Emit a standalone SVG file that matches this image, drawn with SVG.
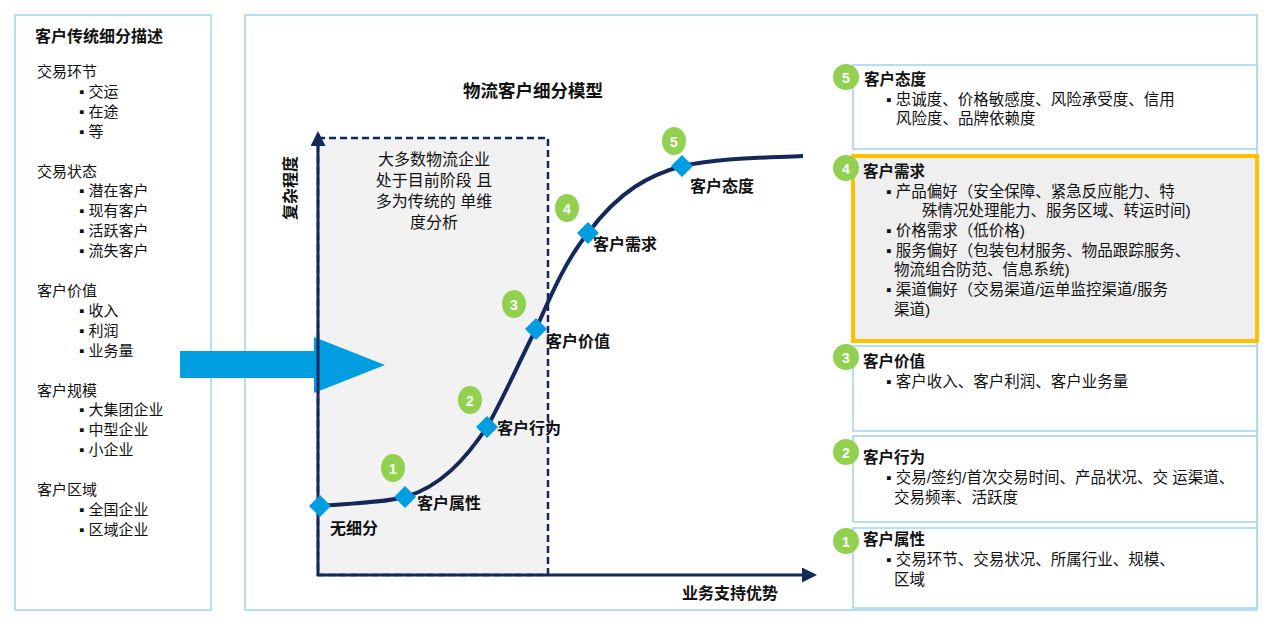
<svg xmlns="http://www.w3.org/2000/svg" width="1280" height="628" viewBox="0 0 1280 628">
<style>
text{font-family:"Liberation Sans","Noto Sans CJK SC",sans-serif;fill:#111}
.b{font-weight:bold}
.t{font-size:15.5px}
.s{font-size:15px}
.lbl{font-size:16px;font-weight:bold}
.panel{fill:#fff;stroke:#9fd3ef;stroke-width:1.5}
.num{fill:#92D050}
.nt{font-size:14px;font-weight:bold;fill:#fff;text-anchor:middle}
.dia{fill:#009ee0}
</style>
<defs>
<marker id="ah" viewBox="0 0 10 10" refX="8" refY="5" markerWidth="5" markerHeight="5" orient="auto"><path d="M0,0 L10,5 L0,10 z" fill="#14285a"/></marker>
</defs>
<g id="left">
<rect class="panel" x="15" y="15" width="196" height="595"/>
<text class="b" x="35" y="42" font-size="16">客户传统细分描述</text>
<g class="s">
<text x="37" y="77">交易环节</text><text x="79" y="97">▪ 交运</text><text x="79" y="117">▪ 在途</text><text x="79" y="137">▪ 等</text>
<text x="37" y="177">交易状态</text><text x="79" y="196">▪ 潜在客户</text><text x="79" y="216">▪ 现有客户</text><text x="79" y="236">▪ 活跃客户</text><text x="79" y="256">▪ 流失客户</text>
<text x="37" y="296">客户价值</text><text x="79" y="316">▪ 收入</text><text x="79" y="336">▪ 利润</text><text x="79" y="356">▪ 业务量</text>
<text x="37" y="396">客户规模</text><text x="79" y="415">▪ 大集团企业</text><text x="79" y="435">▪ 中型企业</text><text x="79" y="455">▪ 小企业</text>
<text x="37" y="495">客户区域</text><text x="79" y="515">▪ 全国企业</text><text x="79" y="535">▪ 区域企业</text>
</g>
</g>
<g id="middle">
<rect class="panel" x="245" y="15" width="1012" height="595"/>
<text class="b" x="533" y="97" font-size="17.5" text-anchor="middle">物流客户细分模型</text>
<rect x="318" y="138" width="230" height="437" fill="#f2f2f2" stroke="#14285a" stroke-width="2.5" stroke-dasharray="7,4"/>
<g font-size="16" text-anchor="middle">
<text x="434" y="165">大多数物流企业</text><text x="434" y="186">处于目前阶段 且</text><text x="434" y="207">多为传统的 单维</text><text x="434" y="228">度分析</text>
</g>
<text class="b" font-size="16" transform="translate(296,188) rotate(-90)" text-anchor="middle">复杂程度</text>
<text class="b" x="730" y="599" font-size="16" text-anchor="middle">业务支持优势</text>
</g>
<g id="connectors">
<path d="M180,351 H314 V337 L385,365 L314,393 V378 H180 z" fill="#009ee0"/>
<line x1="318" y1="576" x2="318" y2="134" stroke="#14285a" stroke-width="3" marker-end="url(#ah)"/>
<line x1="317" y1="575" x2="814" y2="575" stroke="#14285a" stroke-width="3" marker-end="url(#ah)"/>
<path d="M320,506 C360,503 385,502 405,497 C440,487 465,460 487,427 C505,395 520,360 536,329 C553,290 568,257 588,233 C620,190 650,175 682,166 C720,158 760,158 803,156" fill="none" stroke="#14285a" stroke-width="4"/>
</g>
<g id="points">
<path class="dia" d="M320,495 L331,506 L320,517 L309,506 z"/>
<path class="dia" d="M405,486 L416,497 L405,508 L394,497 z"/>
<path class="dia" d="M487,416 L498,427 L487,438 L476,427 z"/>
<path class="dia" d="M536,318 L547,329 L536,340 L525,329 z"/>
<path class="dia" d="M588,222 L599,233 L588,244 L577,233 z"/>
<path class="dia" d="M682,155 L693,166 L682,177 L671,166 z"/>
<ellipse class="num" cx="393" cy="468" rx="12" ry="14"/><text class="nt" x="393" y="474">1</text>
<ellipse class="num" cx="470" cy="400" rx="12" ry="14"/><text class="nt" x="470" y="406">2</text>
<ellipse class="num" cx="514" cy="304" rx="12" ry="14"/><text class="nt" x="514" y="310">3</text>
<ellipse class="num" cx="567" cy="208" rx="12" ry="14"/><text class="nt" x="567" y="214">4</text>
<ellipse class="num" cx="674" cy="141" rx="12" ry="14"/><text class="nt" x="674" y="147">5</text>
<text class="lbl" x="330" y="534">无细分</text>
<text class="lbl" x="417" y="509">客户属性</text>
<text class="lbl" x="497" y="434">客户行为</text>
<text class="lbl" x="546" y="347">客户价值</text>
<text class="lbl" x="593" y="250">客户需求</text>
<text class="lbl" x="690" y="192">客户态度</text>
</g>
<g id="box5">
<rect class="panel" x="853" y="65" width="404" height="84"/>
<circle class="num" cx="846" cy="77" r="13"/><text class="nt" x="846" y="83">5</text>
<text class="b t" x="864" y="85">客户态度</text>
<text class="t" x="886" y="105">▪ 忠诚度、价格敏感度、风险承受度、信用</text>
<text class="t" x="896" y="124">风险度、品牌依赖度</text>
</g>
<g id="box4">
<rect x="853" y="156" width="404" height="185" fill="#efefef" stroke="#FFC000" stroke-width="4"/>
<circle class="num" cx="846" cy="168" r="13"/><text class="nt" x="846" y="174">4</text>
<text class="b t" x="863" y="177">客户需求</text>
<g class="t">
<text x="886" y="197">▪ 产品偏好（安全保障、紧急反应能力、特</text>
<text x="922" y="216">殊情况处理能力、服务区域、转运时间)</text>
<text x="886" y="236">▪ 价格需求（低价格)</text>
<text x="886" y="256">▪ 服务偏好（包装包材服务、物品跟踪服务、</text>
<text x="894" y="275">物流组合防范、信息系统)</text>
<text x="886" y="295">▪ 渠道偏好（交易渠道/运单监控渠道/服务</text>
<text x="894" y="315">渠道)</text>
</g>
</g>
<g id="box3">
<rect class="panel" x="853" y="346" width="404" height="85"/>
<circle class="num" cx="846" cy="357" r="13"/><text class="nt" x="846" y="363">3</text>
<text class="b t" x="863" y="367">客户价值</text>
<text class="t" x="886" y="387">▪ 客户收入、客户利润、客户业务量</text>
</g>
<g id="box2">
<rect class="panel" x="853" y="436" width="404" height="86"/>
<circle class="num" cx="846" cy="452" r="13"/><text class="nt" x="846" y="458">2</text>
<text class="b t" x="863" y="463">客户行为</text>
<text class="t" x="886" y="483">▪ 交易/签约/首次交易时间、产品状况、交 运渠道、</text>
<text class="t" x="894" y="503">交易频率、活跃度</text>
</g>
<g id="box1">
<rect class="panel" x="853" y="528" width="404" height="80"/>
<circle class="num" cx="846" cy="541" r="13"/><text class="nt" x="846" y="547">1</text>
<text class="b t" x="863" y="545">客户属性</text>
<text class="t" x="886" y="565">▪ 交易环节、交易状况、所属行业、规模、</text>
<text class="t" x="894" y="585">区域</text>
</g>
</svg>
